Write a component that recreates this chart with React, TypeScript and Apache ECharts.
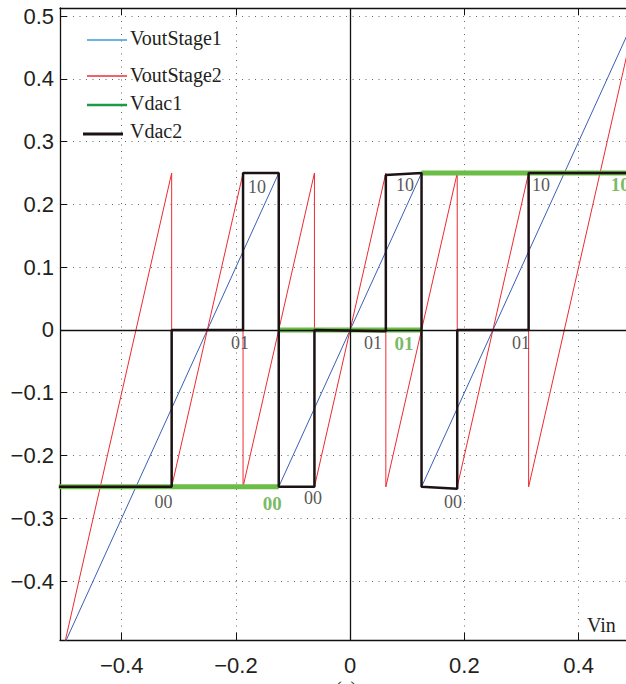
import React, { useEffect, useRef } from "react";
import * as echarts from "echarts";

// Axis ticks
const xTicks = [-0.4, -0.2, 0, 0.2, 0.4];
const yTicks = [-0.4, -0.3, -0.2, -0.1, 0, 0.1, 0.2, 0.3, 0.4, 0.5];

// VoutStage1 breakpoints [Vin, V]
const voutStage1: number[][] = [
  [-0.5, -0.5], [-0.125, 0.25], [-0.125, -0.25], [0.125, 0.25], [0.125, -0.25], [0.5, 0.5],
];

// VoutStage2 breakpoints [Vin, V]
const voutStage2: number[][] = [
  [-0.5, -0.5], [-0.3125, 0.25], [-0.3125, -0.25], [-0.1875, 0.25], [-0.1875, -0.25],
  [-0.0625, 0.25], [-0.0625, -0.25], [0.0625, 0.25], [0.0625, -0.25], [0.1875, 0.25],
  [0.1875, -0.25], [0.3125, 0.25], [0.3125, -0.25], [0.5, 0.5],
];

// Vdac1 levels (separate horizontal segments)
const vdac1Segments: number[][][] = [
  [[-0.51, -0.25], [-0.125, -0.25]],
  [[-0.125, 0], [0.125, 0]],
  [[0.125, 0.25], [0.5, 0.25]],
];

// Vdac2 breakpoints
const vdac2: number[][] = [
  [-0.51, -0.25], [-0.3125, -0.25], [-0.3125, 0], [-0.1875, 0], [-0.1875, 0.25],
  [-0.125, 0.25], [-0.125, -0.25], [-0.0625, -0.25], [-0.0625, 0], [0.0625, -0.002],
  [0.0625, 0.247], [0.125, 0.25], [0.125, -0.25], [0.1875, -0.253], [0.1875, 0],
  [0.3125, 0], [0.3125, 0.25], [0.5, 0.25],
];

// Code annotations [Vin, V, text]
const codeLabels: [number, number, string][] = [
  [-0.163, 0.228, "10"], [0.096, 0.231, "10"], [0.334, 0.231, "10"],
  [-0.193, -0.02, "01"], [0.040, -0.021, "01"], [0.299, -0.021, "01"],
  [-0.327, -0.274, "00"], [-0.065, -0.267, "00"], [0.180, -0.274, "00"],
];
const greenCodeLabels: [number, number, string][] = [
  [0.473, 0.231, "10"], [0.0945, -0.022, "01"], [-0.1365, -0.277, "00"],
];

const SERIF = "Liberation Serif";
const SANS = "Liberation Sans";

const fmt = (v: number) => {
  const s = Math.abs(v) < 1e-9 ? "0" : String(Math.round(v * 10) / 10);
  return s.replace("-", "\u2212");
};

export default function App() {
  const ref = useRef<HTMLDivElement>(null);
  useEffect(() => {
    if (!ref.current) return;
    const chart = echarts.init(ref.current, undefined, { renderer: "svg" });
    const gridLine = { show: true, lineStyle: { color: "#666", width: 1, type: [1, 5.5] as any } };
    const series: any[] = [
      {
        name: "VoutStage1", type: "line", data: voutStage1, showSymbol: false,
        lineStyle: { color: "#3b5fb5", width: 1 }, z: 2,
        markLine: {
          silent: true, symbol: "none", label: { show: false },
          lineStyle: { color: "#111", width: 1.3, type: "solid" },
          data: [{ xAxis: 0 }, { yAxis: 0 }],
        },
      },
      {
        name: "VoutStage2", type: "line", data: voutStage2, showSymbol: false,
        lineStyle: { color: "#ee2a30", width: 1 }, z: 3,
      },
      ...vdac1Segments.map((seg) => ({
        name: "Vdac1", type: "line", data: seg, showSymbol: false,
        lineStyle: { color: "#6cbd48", width: 5 }, z: 4,
      })),
      {
        name: "Vdac2", type: "line", data: vdac2, showSymbol: false,
        lineStyle: { color: "#1c1214", width: 2.5 }, z: 5,
      },
      {
        name: "codes", type: "scatter", symbolSize: 0, z: 6, silent: true,
        data: codeLabels.map((c) => ({ value: [c[0], c[1]], name: c[2] })),
        label: {
          show: true, position: "inside", formatter: (p: any) => p.name,
          fontFamily: SERIF, fontSize: 18, color: "#2a2a2a",
        },
      },
      {
        name: "codesGreen", type: "scatter", symbolSize: 0, z: 6, silent: true,
        data: greenCodeLabels.map((c) => ({ value: [c[0], c[1]], name: c[2] })),
        label: {
          show: true, position: "inside", formatter: (p: any) => p.name,
          fontFamily: SERIF, fontSize: 19, fontWeight: "bold", color: "#55a83a",
        },
      },
    ];

    const legendItems = [
      { name: "VoutStage1", color: "#3d9ad8", w: 1.5, lx1: 87, lx2: 127, ly: 40, ty: 38 },
      { name: "VoutStage2", color: "#e8303a", w: 1.5, lx1: 87, lx2: 127, ly: 76, ty: 75 },
      { name: "Vdac1", color: "#1b9a48", w: 2.5, lx1: 87, lx2: 127, ly: 105, ty: 103 },
      { name: "Vdac2", color: "#1c1214", w: 3, lx1: 83, lx2: 123, ly: 134, ty: 131 },
    ];
    const graphics: any[] = [];
    legendItems.forEach((it) => {
      graphics.push({
        type: "line", shape: { x1: it.lx1, y1: it.ly, x2: it.lx2, y2: it.ly },
        style: { stroke: it.color, lineWidth: it.w }, z: 10,
      });
      graphics.push({
        type: "text", x: 130, y: it.ty,
        style: { text: it.name, fontFamily: SERIF, fontSize: 20, fill: "#231f20", textVerticalAlign: "middle" },
        z: 10,
      });
    });
    graphics.push({
      type: "text", x: 587, y: 625,
      style: { text: "Vin", fontFamily: SERIF, fontSize: 20, fill: "#231f20", textVerticalAlign: "middle" },
      z: 10,
    });
    graphics.push({
      type: "text", x: 346, y: 679,
      style: { text: "(a)", fontFamily: SERIF, fontSize: 20, fill: "#231f20", textAlign: "center", textVerticalAlign: "top" },
      z: 10,
    });

    chart.setOption({
      animation: false,
      backgroundColor: "#fff",
      grid: { left: 60, right: 0, top: 8, bottom: 44, containLabel: false },
      xAxis: [
        {
          type: "value", min: -0.508, max: 0.483, position: "bottom",
          axisLine: { show: true, onZero: false, lineStyle: { color: "#111", width: 1.3 } },
          axisTick: { show: true, inside: true, length: 7, customValues: xTicks, lineStyle: { color: "#111" } },
          axisLabel: {
            show: true, customValues: xTicks, formatter: fmt, margin: 14,
            fontFamily: SANS, fontSize: 22, color: "#231f20",
          },
          splitLine: gridLine,
        },
        {
          type: "value", min: -0.508, max: 0.483, position: "top",
          axisLine: { show: true, onZero: false, lineStyle: { color: "#111", width: 1.3 } },
          axisTick: { show: true, inside: true, length: 7, customValues: xTicks, lineStyle: { color: "#111" } },
          axisLabel: { show: false },
          splitLine: { show: false },
        },
      ],
      yAxis: {
        type: "value", min: -0.494, max: 0.513,
        axisLine: { show: true, onZero: false, lineStyle: { color: "#111", width: 1.3 } },
        axisTick: { show: true, inside: true, length: 7, customValues: yTicks, lineStyle: { color: "#111" } },
        axisLabel: {
          show: true, customValues: yTicks, formatter: fmt, margin: 6,
          fontFamily: SANS, fontSize: 22, color: "#231f20",
        },
        splitLine: gridLine,
      },
      graphic: graphics,
      series,
    });
    return () => chart.dispose();
  }, []);
  return <div ref={ref} style={{ position: "absolute", left: 0, top: 0, width: 626, height: 684 }} />;
}
